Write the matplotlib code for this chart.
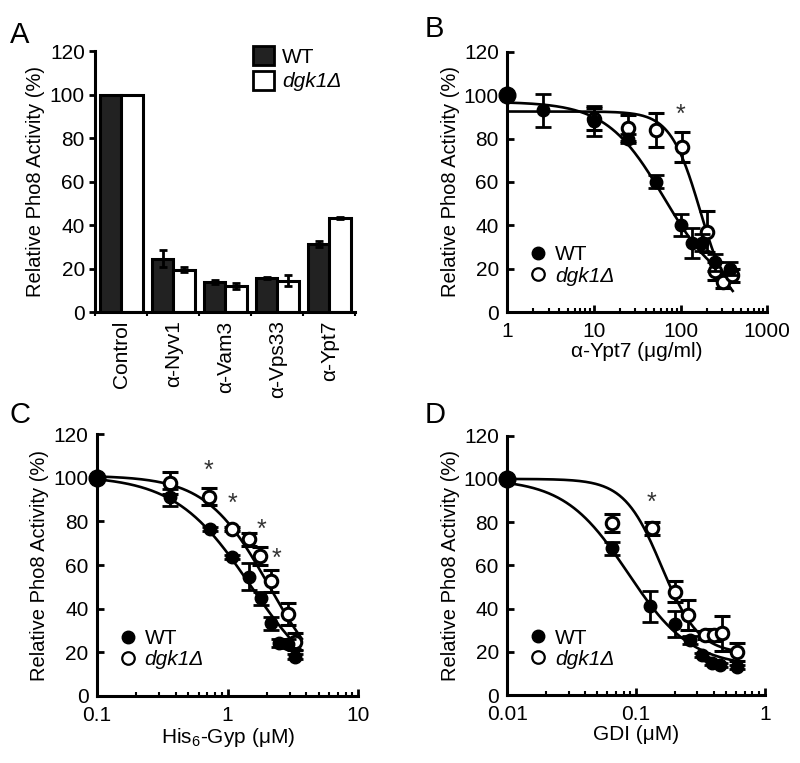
import matplotlib
matplotlib.use("Agg")
import matplotlib.pyplot as plt
import numpy as np
from matplotlib.ticker import LogLocator, NullFormatter, FixedLocator, FuncFormatter

plt.rcParams.update({
    "font.family": "Liberation Sans",
    "font.size": 13,
    "mathtext.fontset": "custom",
    "mathtext.rm": "Liberation Sans",
    "mathtext.it": "Liberation Sans:italic",
    "axes.linewidth": 2.2,
})

# ---- panel A: bars
groups = ["Control", "α-Nyv1", "α-Vam3", "α-Vps33", "α-Ypt7"]
wt_bar = [100, 24.5, 13.8, 15.6, 31.3]
wt_bar_err = [0, 4, 1, 0.5, 1.5]
ko_bar = [100, 19.5, 12, 14.4, 43.3]
ko_bar_err = [0, 1, 1.5, 2.5, 0.5]

# ---- panel B: alpha-Ypt7
wt_x_b = [1, 2.6, 10, 25, 52, 102, 135, 176, 250, 372]
wt_y_b = [100, 93, 88, 80, 60, 40, 32, 32, 23, 20]
wt_e_b = [0, 7.5, 7, 2, 3, 5, 7, 4, 4, 3]
ko_x_b = [10, 25, 52, 104, 201, 250, 310, 390]
ko_y_b = [89, 85, 84, 76, 37, 19, 14, 17]
ko_e_b = [5, 6, 8, 7, 9.5, 4, 3, 3]
star_b = [(100, 91)]

# ---- panel C: His6-Gyp
wt_x_c = [0.1, 0.36, 0.73, 1.08, 1.45, 1.79, 2.14, 2.45, 2.92, 3.3]
wt_y_c = [100, 91, 76.5, 63.6, 54.7, 44.8, 33.3, 24.2, 23.9, 18]
wt_e_c = [0, 4, 1, 1, 6, 3, 3, 2, 2, 1]
ko_x_c = [0.36, 0.715, 1.08, 1.445, 1.77, 2.14, 2.92, 3.29]
ko_y_c = [97.6, 91.4, 76.5, 71.9, 64.2, 52.8, 37.5, 24.9]
ko_e_c = [5, 4, 1, 3, 4, 5, 5, 4]
star_c = [(0.715, 103), (1.09, 88), (1.83, 76), (2.35, 63)]

# ---- panel D: GDI
wt_x_d = [0.01, 0.065, 0.128, 0.201, 0.263, 0.325, 0.39, 0.45, 0.607]
wt_y_d = [100, 68, 41, 33, 25.5, 18.5, 14.7, 13.9, 13.1]
wt_e_d = [0, 3, 7, 6, 2, 1, 1, 1, 1]
ko_x_d = [0.065, 0.133, 0.201, 0.255, 0.344, 0.4, 0.465, 0.607]
ko_y_d = [79.6, 77.2, 47.9, 37.1, 27.8, 27.8, 28.6, 20]
ko_e_d = [4, 3, 5, 7, 2, 3, 8, 4]
star_d = [(0.133, 89)]

# fitted dose-response curves (top, bottom, IC50, hill)
fit_b = {"wt": (97, 8, 65, 1.3), "ko": (92.5, 0, 170, 2.5)}
fit_c = {"wt": (101, 0, 1.5, 1.5), "ko": (101, 0, 2.07, 1.81)}
fit_d = {"wt": (100, 13, 0.0865, 1.76), "ko": (100, 19, 0.158, 3.0)}

YLAB = "Relative Pho8 Activity (%)"


def hill(x, top, bottom, ic50, h):
    return bottom + (top - bottom) / (1 + (x / ic50) ** h)


def dose_panel(ax, wt, ko, fits, stars, xlim, xlabel, xmax_curve):
    xs = np.logspace(np.log10(xlim[0]), np.log10(xmax_curve), 300)
    ax.plot(xs, hill(xs, *fits["wt"]), color="black", lw=1.9, zorder=2)
    ax.plot(xs, hill(xs, *fits["ko"]), color="black", lw=1.9, zorder=2)
    ax.errorbar(ko[0], ko[1], yerr=ko[2], fmt="o", ms=9, mfc="white", mec="black",
                mew=2.2, ecolor="black", elinewidth=2, capsize=5.5, capthick=2,
                zorder=3, clip_on=False)
    ax.errorbar(wt[0][1:], wt[1][1:], yerr=wt[2][1:], fmt="o", ms=9, mfc="black",
                mec="black", ecolor="black", elinewidth=2, capsize=5.5, capthick=2,
                zorder=4, clip_on=False)
    ax.plot(wt[0][0], wt[1][0], "o", ms=12, color="black", zorder=5, clip_on=False)
    for sx, sy in stars:
        ax.text(sx, sy, "*", ha="center", va="center", fontsize=18, color="#333333")
    ax.set_xscale("log")
    ax.set_xlim(*xlim)
    ax.set_ylim(0, 120)
    ax.set_yticks(range(0, 121, 20))
    ax.xaxis.set_minor_locator(LogLocator(base=10, subs=np.arange(2, 10), numticks=20))
    ax.xaxis.set_minor_formatter(NullFormatter())
    ax.set_xticks([xlim[0] * 10 ** k for k in range(4) if xlim[0] * 10 ** k <= xlim[1] * 1.01])
    ax.xaxis.set_major_formatter(FuncFormatter(lambda v, p: "{:g}".format(v)))
    ax.tick_params(which="major", direction="in", length=5, width=2, labelsize=15)
    ax.tick_params(axis="x", which="major", pad=7)
    ax.tick_params(axis="y", which="major", pad=6)
    ax.tick_params(which="minor", direction="in", length=3, width=1.5)
    ax.spines[["top", "right"]].set_visible(False)
    ax.set_xlabel(xlabel, fontsize=15, labelpad=1)
    ax.set_ylabel(YLAB, fontsize=14.5, labelpad=3)
    h1 = ax.plot([], [], "o", ms=9, color="black")[0]
    h2 = ax.plot([], [], "o", ms=9, mfc="white", mec="black", mew=1.6)[0]
    leg = ax.legend([h1, h2], ["WT", "dgk1Δ"], loc="lower left", bbox_to_anchor=(0.04, 0.07),
                    frameon=False, fontsize=15, handletextpad=0.2, labelspacing=0.1,
                    borderaxespad=0, handlelength=1.2)
    leg.get_texts()[1].set_style("italic")


fig = plt.figure(figsize=(8, 7.63), dpi=100)

# panel A
axA = fig.add_axes([0.119, 0.591, 0.325, 0.342])
xg = np.arange(len(groups))
bw = 0.41
axA.bar(xg - bw / 2, wt_bar, bw, color="#222222", edgecolor="black", lw=2.2)
axA.bar(xg + bw / 2, ko_bar, bw, color="white", edgecolor="black", lw=2.2)
axA.errorbar(xg[1:] - bw / 2, wt_bar[1:], yerr=wt_bar_err[1:], fmt="none", ecolor="black",
             elinewidth=2, capsize=3, capthick=2)
axA.errorbar(xg[1:] + bw / 2, ko_bar[1:], yerr=ko_bar_err[1:], fmt="none", ecolor="black",
             elinewidth=2, capsize=3, capthick=2)
axA.set_xlim(-0.5, 4.5)
axA.set_ylim(0, 120)
axA.set_yticks(range(0, 121, 20))
axA.set_xticks(xg)
axA.set_xticklabels(groups, rotation=90, fontsize=15)
axA.xaxis.set_minor_locator(FixedLocator(np.arange(-0.5, 4.6, 1)))
axA.tick_params(axis="x", which="major", length=0, pad=6)
axA.tick_params(axis="x", which="minor", direction="out", length=3, width=1.5)
axA.tick_params(axis="y", direction="out", length=4, width=2, labelsize=15)
axA.spines[["top", "right"]].set_visible(False)
axA.set_ylabel(YLAB, fontsize=14.5, labelpad=3)
hA = [plt.Rectangle((0, 0), 1, 1, facecolor="#222222", edgecolor="black", lw=2),
      plt.Rectangle((0, 0), 1, 1, facecolor="white", edgecolor="black", lw=2)]
legA = axA.legend(hA, ["WT", "dgk1Δ"], loc="upper right", bbox_to_anchor=(1.02, 1.09),
                  frameon=False, fontsize=15, handlelength=1.0, handleheight=1.0,
                  handletextpad=0.4, labelspacing=0.2)
legA.get_texts()[1].set_style("italic")

# panels B, C, D
axB = fig.add_axes([0.634, 0.591, 0.325, 0.341])
dose_panel(axB, (wt_x_b, wt_y_b, wt_e_b), (ko_x_b, ko_y_b, ko_e_b), fit_b, star_b,
           (1, 1000), "α-Ypt7 (μg/ml)", 400)

axC = fig.add_axes([0.121, 0.088, 0.327, 0.343])
dose_panel(axC, (wt_x_c, wt_y_c, wt_e_c), (ko_x_c, ko_y_c, ko_e_c), fit_c, star_c,
           (0.1, 10), "His$_6$-Gyp (μM)", 3.7)

axD = fig.add_axes([0.634, 0.089, 0.322, 0.340])
dose_panel(axD, (wt_x_d, wt_y_d, wt_e_d), (ko_x_d, ko_y_d, ko_e_d), fit_d, star_d,
           (0.01, 1), "GDI (μM)", 0.61)

for lbl, x, y in [("A", 0.012, 0.944), ("B", 0.531, 0.952), ("C", 0.012, 0.446), ("D", 0.531, 0.446)]:
    fig.text(x, y, lbl, fontsize=21, va="baseline")

fig.savefig("out.png", dpi=100)
